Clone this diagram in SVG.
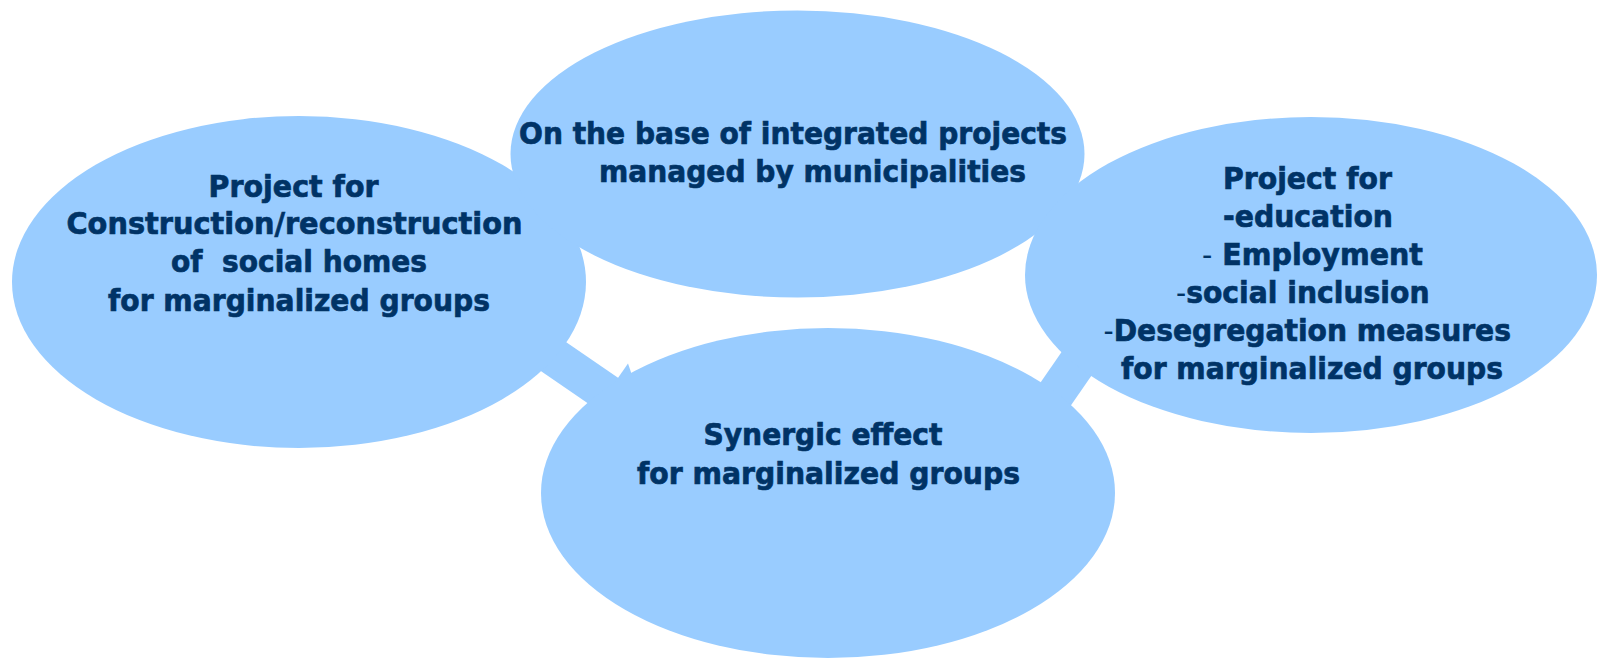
<svg xmlns="http://www.w3.org/2000/svg" width="1597" height="658" viewBox="0 0 1597 658">
<style>
.n{fill:#99CCFF}
.c{stroke:#99CCFF;stroke-width:38;fill:none}
.t{font-family:"DejaVu Sans",Verdana,sans-serif;font-weight:bold;font-size:31px;fill:#003366;stroke:#003366;stroke-width:0.7}
.h{font-weight:normal;stroke-width:0}
</style>
<rect width="1597" height="658" fill="#FFFFFF"/>
<g id="connectors">
<line class="c" x1="490" y1="313" x2="608" y2="394"/>
<polygon class="n" points="586,424 628,363.5 648,422"/>
<line class="c" x1="1110.7" y1="314.4" x2="1031" y2="429.6"/>
</g>
<g id="node-housing">
<ellipse class="n" cx="299" cy="282" rx="287" ry="166"/>
<text class="t" x="208.6" y="196.5" textLength="170" lengthAdjust="spacingAndGlyphs">Project for</text>
<text class="t" x="66.5" y="234" textLength="456" lengthAdjust="spacingAndGlyphs">Construction/reconstruction</text>
<text class="t" x="171" y="272" textLength="256" lengthAdjust="spacingAndGlyphs">of&#160; social homes</text>
<text class="t" x="108" y="310.5" textLength="382" lengthAdjust="spacingAndGlyphs">for marginalized groups</text>
</g>
<g id="node-integrated">
<ellipse class="n" cx="797.5" cy="154" rx="287" ry="143.5"/>
<text class="t" x="519" y="144" textLength="548" lengthAdjust="spacingAndGlyphs">On the base of integrated projects</text>
<text class="t" x="599" y="182" textLength="427" lengthAdjust="spacingAndGlyphs">managed by municipalities</text>
</g>
<g id="node-education">
<ellipse class="n" cx="1311" cy="275" rx="286" ry="158"/>
<text class="t" x="1223" y="188.5" textLength="169" lengthAdjust="spacingAndGlyphs">Project for</text>
<text class="t" x="1223" y="226.5" textLength="170" lengthAdjust="spacingAndGlyphs">-education</text>
<text class="t" x="1202" y="264.5" textLength="221" lengthAdjust="spacingAndGlyphs"><tspan class="h">-</tspan> Employment</text>
<text class="t" x="1176" y="302.5" textLength="253.5" lengthAdjust="spacingAndGlyphs"><tspan class="h">-</tspan>social inclusion</text>
<text class="t" x="1103.5" y="341" textLength="407.5" lengthAdjust="spacingAndGlyphs"><tspan class="h">-</tspan>Desegregation measures</text>
<text class="t" x="1121" y="379" textLength="382" lengthAdjust="spacingAndGlyphs">for marginalized groups</text>
</g>
<g id="node-synergic">
<ellipse class="n" cx="828" cy="493" rx="287" ry="165"/>
<text class="t" x="703.5" y="445" textLength="239" lengthAdjust="spacingAndGlyphs">Synergic effect</text>
<text class="t" x="637" y="483.5" textLength="383" lengthAdjust="spacingAndGlyphs">for marginalized groups</text>
</g>
</svg>
